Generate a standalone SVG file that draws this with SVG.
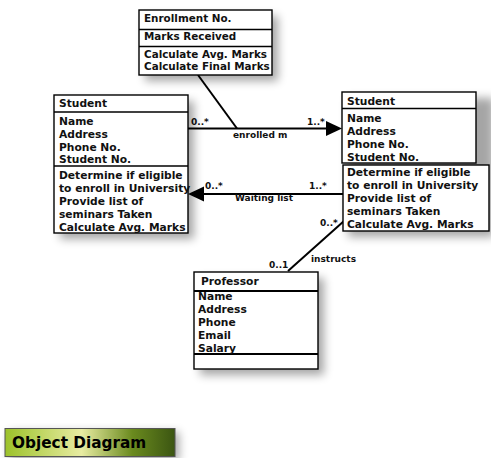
<svg xmlns="http://www.w3.org/2000/svg" width="491" height="458" viewBox="0 0 491 458">
<defs>
<style>
.box{fill:#fff;stroke:#000;stroke-width:1.4}
.thick{stroke:#000;stroke-width:2.2}
.div{stroke:#000;stroke-width:1.4}
.t{font-family:"DejaVu Sans",Verdana,sans-serif;font-weight:bold;font-size:10.7px;fill:#111}
.te{font-size:10.4px}
.l{font-family:"DejaVu Sans",Verdana,sans-serif;font-weight:bold;font-size:9px;fill:#111}
.ln{stroke:#000;stroke-width:2;fill:none}
.ah{fill:#000}
.sh{fill:#000;opacity:0.35;filter:url(#blur)}
</style>
<filter id="blur" x="-30%" y="-30%" width="160%" height="160%"><feGaussianBlur stdDeviation="5"/></filter>
<linearGradient id="og" x1="0" y1="0" x2="1" y2="0">
<stop offset="0" stop-color="#9cc22a"/>
<stop offset="0.45" stop-color="#e8eca2"/>
<stop offset="0.75" stop-color="#6a8a1e"/>
<stop offset="1" stop-color="#3b5512"/>
</linearGradient>
</defs>
<rect width="491" height="458" fill="#fff"/>

<g id="connectors">
<line class="ln" x1="198" y1="75" x2="237" y2="128.5"/>
<line class="ln" x1="188" y1="128.5" x2="328" y2="128.5"/>
<polygon class="ah" points="342,128.5 326,121 326,136"/>
<text class="l" x="191" y="125">0..*</text>
<text class="l" x="307" y="125">1..*</text>
<text class="l" x="233" y="138">enrolled m</text>
<line class="ln" x1="343" y1="194" x2="202" y2="194"/>
<polygon class="ah" points="188,194 204,186.5 204,201.5"/>
<text class="l" x="205" y="189">0..*</text>
<text class="l" x="309" y="189">1..*</text>
<text class="l" x="235" y="201">Waiting list</text>
<line class="ln" x1="344" y1="221" x2="288" y2="271"/>
<text class="l" x="320" y="226">0..*</text>
<text class="l" x="269" y="268">0..1</text>
<text class="l" x="311" y="262">instructs</text>
</g>

<g id="enrollment">
<rect class="sh" x="145" y="16" width="133" height="65"/>
<rect class="box" x="139" y="10" width="133" height="65"/>
<line class="div" x1="139" y1="29.5" x2="272" y2="29.5"/>
<line class="div" x1="139" y1="46.5" x2="272" y2="46.5"/>
<text class="t te" x="144" y="22">Enrollment No.</text>
<text class="t te" x="144" y="40">Marks Received</text>
<text class="t te" x="144" y="58">Calculate Avg. Marks</text>
<text class="t te" x="144" y="70">Calculate Final Marks</text>
</g>

<g id="student-left">
<rect class="sh" x="60" y="101" width="134" height="138"/>
<rect class="box" x="54" y="95" width="134" height="138"/>
<line class="div" x1="54" y1="112" x2="188" y2="112"/>
<line class="div" x1="54" y1="166" x2="188" y2="166"/>
<text class="t" x="59" y="107">Student</text>
<text class="t" x="59" y="125">Name</text>
<text class="t" x="59" y="138">Address</text>
<text class="t" x="59" y="151">Phone No.</text>
<text class="t" x="59" y="163">Student No.</text>
<text class="t" x="59" y="179">Determine if eligible</text>
<text class="t" x="59" y="192">to enroll in University</text>
<text class="t" x="59" y="205">Provide list of</text>
<text class="t" x="59" y="218">seminars Taken</text>
<text class="t" x="59" y="231">Calculate Avg. Marks</text>
</g>

<g id="student-right">
<rect class="sh" x="348" y="98" width="146" height="139"/>
<rect class="box" x="342" y="92" width="134" height="71"/>
<line class="div" x1="342" y1="108.5" x2="476" y2="108.5"/>
<text class="t" x="347" y="105">Student</text>
<text class="t" x="347" y="122">Name</text>
<text class="t" x="347" y="135">Address</text>
<text class="t" x="347" y="148">Phone No.</text>
<text class="t" x="347" y="161">Student No.</text>
<rect class="box" x="343" y="165" width="146" height="66"/>
<text class="t" x="347" y="176">Determine if eligible</text>
<text class="t" x="347" y="189">to enroll in University</text>
<text class="t" x="347" y="202">Provide list of</text>
<text class="t" x="347" y="215">seminars Taken</text>
<text class="t" x="347" y="228">Calculate Avg. Marks</text>
</g>

<g id="professor">
<rect class="sh" x="200" y="278" width="124" height="97"/>
<rect class="box" x="194" y="272" width="124" height="97"/>
<line class="thick" x1="194" y1="291" x2="318" y2="291"/>
<line class="thick" x1="194" y1="354" x2="318" y2="354"/>
<text class="t" x="201" y="285">Professor</text>
<text class="t" x="198" y="300">Name</text>
<text class="t" x="198" y="313">Address</text>
<text class="t" x="198" y="326">Phone</text>
<text class="t" x="198" y="339">Email</text>
<text class="t" x="198" y="352">Salary</text>
</g>

<g id="title">
<rect class="sh" x="9" y="432" width="170" height="29"/>
<rect x="5" y="428.5" width="170" height="28" fill="url(#og)" stroke="#555" stroke-width="1"/>
<text x="12" y="447.5" font-family="'DejaVu Sans',Verdana,sans-serif" font-weight="bold" font-size="15.3px" fill="#000">Object Diagram</text>
</g>
</svg>
